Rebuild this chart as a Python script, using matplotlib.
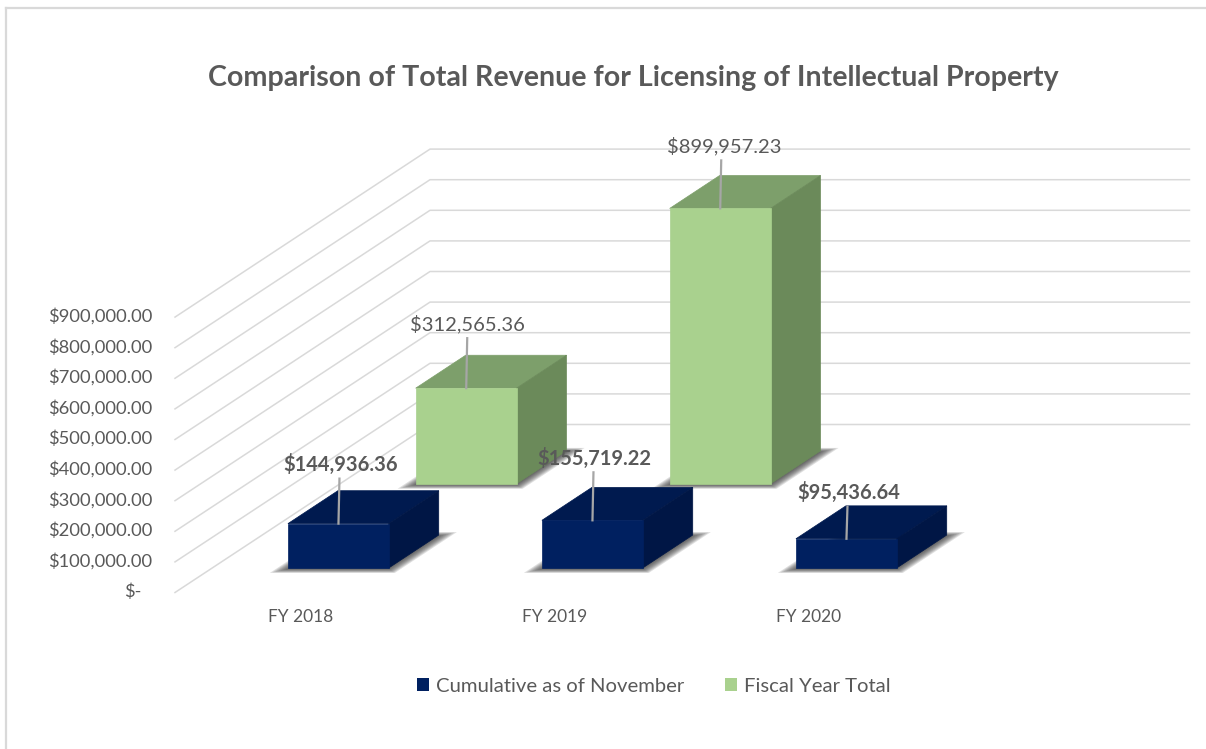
# importing relevant libraries here:
import numpy as np
import matplotlib
matplotlib.use("Agg")
import matplotlib.pyplot as plt
from matplotlib.patches import Patch, Polygon

plt.rcParams['font.family'] = ['Lato', 'DejaVu Sans']

# --- chart data ---
years = ["FY 2018", "FY 2019", "FY 2020"]
cumulative = [144936.36, 155719.22, 95436.64]
fiscal_total = [312565.36, 899957.23, None]
fiscal_labels = ["$312,565.36", "$899,957.23", None]
cumulative_labels = ["$144,936.36", "$155,719.22", "$95,436.64"]
tick_values = [0, 100000, 200000, 300000, 400000, 500000, 600000, 700000, 800000, 900000]
tick_labels = ["$-", "$100,000.00", "$200,000.00", "$300,000.00", "$400,000.00",
               "$500,000.00", "$600,000.00", "$700,000.00", "$800,000.00", "$900,000.00"]

# fake 3D box: how the three axes land on the picture (pixels)
X0, Y0 = 175.0, 592.5
CAT_W = 254.0
VAL_H = 30.6 / 100000
DEPTH_X, DEPTH_Y = 255.0, -168.0
N_CAT = len(years)


def proj(cat, val, depth):
    """cat in category units, val in dollars, depth 0 (front) to 1 (back)"""
    x = X0 + cat * CAT_W + depth * DEPTH_X
    y = Y0 - val * VAL_H + depth * DEPTH_Y
    return x, y


def draw_shadow(ax, cat0, cat1, d0, d1, z):
    corners = np.array([proj(cat0, 0, d0), proj(cat1, 0, d0),
                        proj(cat1, 0, d1), proj(cat0, 0, d1)])
    center = corners.mean(axis=0)
    for s in np.linspace(1.24, 1.0, 8):
        pts = center + (corners - center) * s + [0, 1]
        ax.add_patch(Polygon(pts, closed=True, fc='#303030', ec='none',
                             alpha=0.15, zorder=z))


def draw_bar(ax, i, value, d0, d1, front, top, side, z):
    cat0, cat1 = i + 0.298, i + 0.695
    draw_shadow(ax, cat0, cat1, d0, d1, z)
    ax.add_patch(Polygon([proj(cat0, value, d0), proj(cat1, value, d0),
                          proj(cat1, value, d1), proj(cat0, value, d1)],
                         closed=True, fc=top, ec=top, lw=0.5, zorder=z + 1))
    ax.add_patch(Polygon([proj(cat1, 0, d0), proj(cat1, 0, d1),
                          proj(cat1, value, d1), proj(cat1, value, d0)],
                         closed=True, fc=side, ec=side, lw=0.5, zorder=z + 1))
    ax.add_patch(Polygon([proj(cat0, 0, d0), proj(cat1, 0, d0),
                          proj(cat1, value, d0), proj(cat0, value, d0)],
                         closed=True, fc=front, ec=front, lw=0.5, zorder=z + 2))


def data_label(ax, i, value, d0, text, lead, dx, weight, z):
    x, y = proj(i + 0.497, value, d0)
    ax.plot([x, x + 1], [y, y - lead], color='#a6a6a6', lw=1.6, zorder=z)
    ax.text(x + dx, y - lead - 14, text, ha='center', va='center', fontsize=14.5,
            color='#595959', fontweight=weight, zorder=z + 1)


fig = plt.figure(figsize=(12.06, 7.49), dpi=100)
ax = fig.add_axes([0, 0, 1, 1])
ax.set_xlim(0, 1206)
ax.set_ylim(749, 0)
ax.axis('off')

# outer frame of the pasted picture
ax.plot([6, 6], [749, 8], color='#d9d9d9', lw=1.6)
ax.plot([6, 1206], [8, 8], color='#d9d9d9', lw=1.6)

ax.text(633, 78, "Comparison of Total Revenue for Licensing of Intellectual Property",
        ha='center', va='center', fontsize=20.6, fontweight='bold', color='#595959')

# gridlines on side wall and back wall
for val, lab in zip(tick_values, tick_labels):
    xa, ya = proj(0, val, 0)
    xb, yb = proj(0, val, 1)
    xc, yc = proj(N_CAT - 0.01, val, 1)
    ax.plot([xa, xb, xc], [ya, yb, yc], color='#d9d9d9', lw=1.1, zorder=1)
    ax.text(152 if val else 141, ya - 1, lab, ha='right', va='center',
            fontsize=13.2, color='#595959')

for i, y in enumerate(years):
    xl, yl = proj(i + 0.5, 0, 0)
    ax.text(xl - 1, 617.5, y, ha='center', va='center', fontsize=12.5, color='#595959')

# back row first, front row painted over it
GREEN_D = (0.647, 0.843)
NAVY_D = (0.146, 0.342)
for i, v in enumerate(fiscal_total):
    if v is None:
        continue
    draw_bar(ax, i, v, GREEN_D[0], GREEN_D[1], '#a9d18e', '#7d9f6b', '#6b8a5a', 3)
for i, v in enumerate(cumulative):
    draw_bar(ax, i, v, NAVY_D[0], NAVY_D[1], '#002060', '#001a4f', '#001645', 7)

lead_green = [50, 48, None]
lead_navy = [45, 48, 32]
for i, v in enumerate(fiscal_total):
    if v is not None:
        data_label(ax, i, v, GREEN_D[0], fiscal_labels[i], lead_green[i], 1 if i == 0 else 4, 'normal', 12)
for i, v in enumerate(cumulative):
    data_label(ax, i, v, NAVY_D[0], cumulative_labels[i], lead_navy[i], 2, 'bold', 12)

handles = [Patch(fc='#002060', label="Cumulative as of November"),
           Patch(fc='#a9d18e', label="Fiscal Year Total")]
ax.legend(handles=handles, loc='center', bbox_to_anchor=(654, 686.5),
          bbox_transform=ax.transData, ncol=2, frameon=False, fontsize=14.6,
          labelcolor='#595959', handlelength=0.6, handleheight=0.6,
          handletextpad=0.35, columnspacing=2.0)

fig.savefig('out.png', dpi=100)
